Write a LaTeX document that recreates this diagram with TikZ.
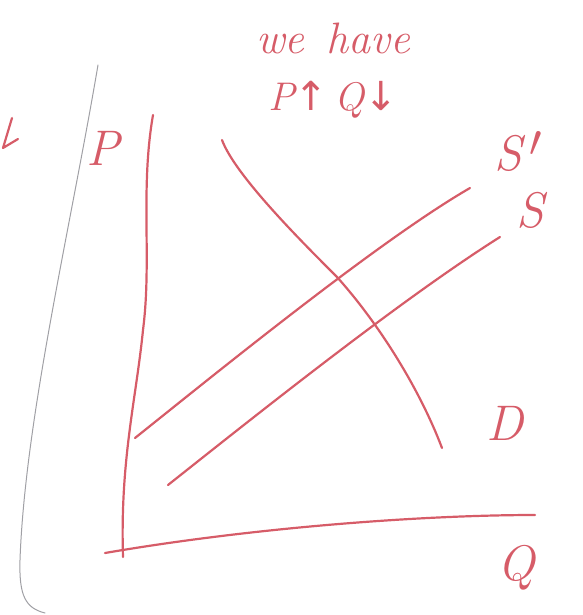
\documentclass[tikz,border=0pt]{standalone}
\usepackage{fontspec}
\newfontfamily\symfont{DejaVu Sans}
\definecolor{pen}{RGB}{214,92,104}
\definecolor{pencil}{RGB}{160,160,165}
\tikzset{
  penline/.style={draw=pen, line width=2.2pt, line cap=round, line join=round},
  pencilline/.style={draw=pencil, line width=1pt, line cap=round},
  hand/.style={text=pen, font=\itshape\fontsize{50}{52}\selectfont, inner sep=0pt},
  handsmall/.style={text=pen, font=\itshape\fontsize{44}{46}\selectfont, inner sep=0pt},
}
\begin{document}
\begin{tikzpicture}[x=1pt,y=-1pt]
\useasboundingbox (0,0) rectangle (582,615);
% pencil edge line
\draw[pencilline] (98,65) .. controls (70,230) and (25,420) .. (20,560) .. controls (19,595) and (25,608) .. (45,613);
% left partial arrow
\coordinate (la1) at (12,118);
\coordinate (la2) at (3,148);
\coordinate (la3) at (18,139);
\draw[penline] (la1) -- (la2) -- (la3);
% axes
\coordinate (ytop) at (153,115);
\coordinate (orig) at (123,557);
\coordinate (xl) at (105,553);
\coordinate (xr) at (535,515);
\draw[penline] (ytop) .. controls (140,190) and (152,260) .. (143,330)
  .. controls (136,400) and (120,460) .. (orig);
\draw[penline] (xl) .. controls (250,528) and (420,515) .. (xr);
% supply curves
\coordinate (s1a) at (135,438);
\coordinate (s1b) at (470,188);
\coordinate (s0a) at (168,485);
\coordinate (s0b) at (500,237);
\draw[penline] (s1a) .. controls (220,370) and (380,240) .. (s1b);
\draw[penline] (s0a) .. controls (250,420) and (400,300) .. (s0b);
% demand
\coordinate (da) at (222,140);
\coordinate (db) at (442,448);
\draw[penline] (da) .. controls (235,175) and (300,240) .. (337,277)
  .. controls (380,325) and (420,390) .. (db);
% labels
\node[hand] (P) at (103,148) {P};
\node[hand, anchor=west] (Sp) at (494,152) {S\hspace{0.15em}\raisebox{-0.05em}{\scalebox{1.8}{$'$}}};
\node[hand] (S) at (530,210) {S};
\node[hand] (D) at (505,423) {D};
\node[hand] (Q) at (516,568) {Q};
\node[handsmall, anchor=west] (we) at (256,38) {we\hspace{0.5em}have};
\node[handsmall, anchor=west, font=\itshape\fontsize{40}{42}\selectfont] (pq) at (268,100) {P{\symfont\upshape↑}\,Q{\symfont\upshape↓}};
\end{tikzpicture}
\end{document}
